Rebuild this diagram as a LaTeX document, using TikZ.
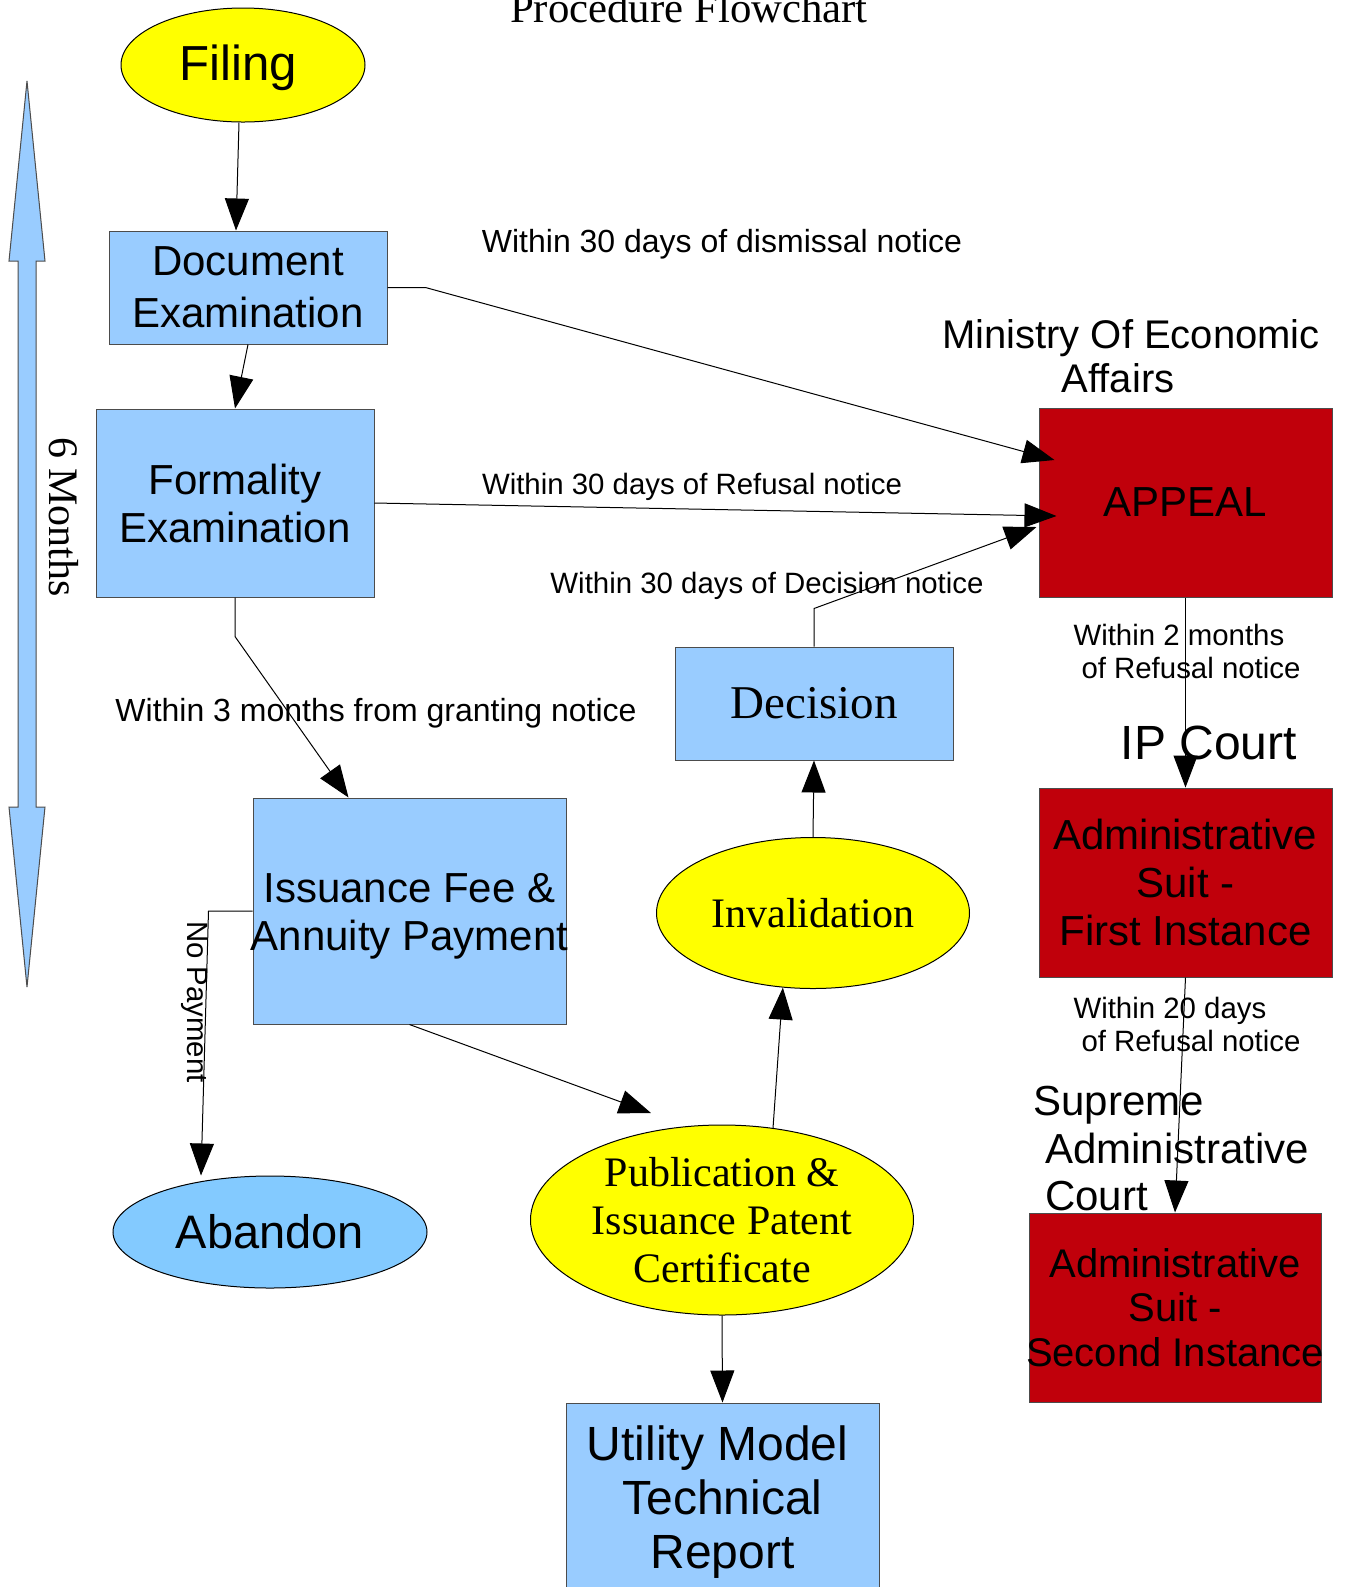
\documentclass[tikz,border=0pt]{standalone}
\usepackage{fontspec}
\setmainfont{Liberation Sans}
\newfontfamily\timesface{Liberation Serif}
\usetikzlibrary{shapes.geometric,arrows.meta}
\definecolor{paleblue}{RGB}{153,204,255}
\definecolor{skyblue}{RGB}{131,202,255}
\definecolor{appealred}{RGB}{192,0,11}
\definecolor{lemon}{RGB}{255,255,0}

\begin{document}
\begin{tikzpicture}[x=0.5pt,y=-0.5pt,line width=0.5pt,>={Triangle[length=16pt,width=12pt]}]
    \tikzstyle{box}=[rectangle,draw=black!70,fill=paleblue,inner sep=0pt,inner xsep=-3pt,align=center,font=\fontsize{21}{24}\selectfont]
    \tikzstyle{court box}=[box,fill=appealred]
    \tikzstyle{oval}=[ellipse,draw=black,fill=lemon,inner sep=0pt,align=center,font=\timesface\fontsize{21}{24}\selectfont]
    \tikzstyle{annot}=[inner sep=0pt,font=\fontsize{14.7}{16.5}\selectfont]
    \tikzstyle{big annot}=[inner sep=0pt,font=\fontsize{16}{19}\selectfont]
    \tikzstyle{court}=[inner sep=0pt,font=\fontsize{21}{23.75}\selectfont]

    \useasboundingbox (0,0) rectangle (1345,1587);

    \node[font=\timesface\fontsize{21.4}{24}\selectfont,inner sep=0pt,anchor=base] (title) at (689,22) {Procedure Flowchart};

    % Six month span on the left
    \draw[fill=paleblue,draw=black!70] (27,81) -- (45,261) -- (36,261) -- (36,807) -- (45,807)
        -- (27,987) -- (9,807) -- (18,807) -- (18,261) -- (9,261) -- cycle;
    \node[font=\timesface\fontsize{21}{24}\selectfont,inner sep=0pt,rotate=-90] (span) at (64,517) {6 Months};

    % Application steps
    \node[oval,font=\fontsize{24.6}{28}\selectfont,minimum width=122pt,minimum height=57pt] (filing) at (243,65) {\rule{0pt}{21pt}Filing\hspace*{5pt}};
    \node[box,minimum width=139pt,minimum height=56.5pt,font=\fontsize{21}{26}\selectfont] (doc) at (248,287.5) {Document\\Examination};
    \node[box,minimum width=139pt,minimum height=94pt] (formal) at (235,503) {Formality\\Examination};
    \node[box,minimum width=156.5pt,minimum height=113pt] (issue) at (409.5,911) {\rule{0pt}{20.3pt}Issuance Fee \&\\Annuity Payment};
    \node[oval,fill=skyblue,font=\fontsize{23.5}{27}\selectfont,minimum width=157pt,minimum height=56pt] (abandon) at (270,1232) {Abandon};
    \node[oval,inner ysep=-3pt,minimum width=191.5pt,minimum height=95pt] (pub) at (722,1220) {Publication \&\\Issuance Patent\\Certificate};
    \node[box,minimum width=156.5pt,minimum height=94pt,font=\fontsize{24}{27}\selectfont] (utility) at (722.5,1497) {\rule{0pt}{22.5pt}Utility Model\hspace*{5pt}\\Technical\hspace*{5pt}\\Report};
    \node[oval,minimum width=156.5pt,minimum height=75.5pt] (invalid) at (813,913) {Invalidation};
    \node[box,minimum width=139pt,minimum height=56.5pt,font=\timesface\fontsize{23.5}{27}\selectfont] (decision) at (814,703.5) {Decision};

    % Appeal and court steps
    \node[court box,minimum width=146.5pt,minimum height=94.5pt] (appeal) at (1185.5,502.5) {APPEAL};
    \node[court box,minimum width=146.5pt,minimum height=94.5pt] (first) at (1185.5,882.5) {Administrative\\Suit -\\First Instance};
    \node[court box,minimum width=146pt,minimum height=94.5pt,font=\fontsize{20}{22.25}\selectfont] (second) at (1175,1307.5) {Administrative\\Suit -\\Second Instance};

    % Annotate the authorities and the time limits
    \node[inner sep=0pt,align=center,font=\fontsize{20}{22}\selectfont] (moea) at (1131,356) {Ministry Of Economic\\Affairs\hspace*{13pt}};
    \node[inner sep=0pt,font=\fontsize{24}{27}\selectfont] (ipcourt) at (1209,743) {IP Court};
    \node[court,align=left,anchor=west] (sac) at (1033,1149) {Supreme\\\hspace*{5.8pt}Administrative\\\hspace*{5.8pt}Court};
    \node[big annot] (t-dismiss) at (722,244) {Within 30 days of dismissal notice};
    \node[annot] (t-refusal) at (692,487) {Within 30 days of Refusal notice};
    \node[annot] (t-decision) at (767,586) {Within 30 days of Decision notice};
    \node[big annot] (t-grant) at (376,713) {Within 3 months from granting notice};
    \node[annot,rotate=-90] (t-nopay) at (195,1002) {No Payment};
    \node[annot,align=left,anchor=west] (t-ipc) at (1073,651) {Within 2 months\\\hspace*{4pt}of Refusal notice};
    \node[annot,align=left,anchor=west] (t-sac) at (1073,1024) {Within 20 days\\\hspace*{4pt}of Refusal notice};

    \coordinate (pubin) at (651,1113);

    % Connect the steps
    \draw[->] ([xshift=-2pt]filing.south) -- ([xshift=-6pt]doc.north);
    \draw[->] (formal.south) -- ++(0,39) -- ([xshift=48pt]issue.north west);
    \draw[->] (issue.west) -- ++(-44,0) -- ([xshift=-34.5pt]abandon.north);
    \draw[->] (issue.south) -- (pubin);
    \foreach \source/\dest in {doc.south/formal.north,pub.61/invalid.-112,invalid.north/decision.south,
        pub.south/utility.north,appeal.south/first.north,first.south/second.north}
        \draw[->] (\source) -- (\dest);

    % Every appeal goes to the ministry
    \draw[->] (doc.east) -- ++(38,0) -- ([xshift=8pt,yshift=21.25pt]appeal.west);
    \draw[->] (formal.east) -- ([xshift=9pt,yshift=-6.75pt]appeal.west);
    \draw[->] (decision.north) -- ++(0,-38) -- ([xshift=-1pt,yshift=-12.25pt]appeal.west);
\end{tikzpicture}
\end{document}
